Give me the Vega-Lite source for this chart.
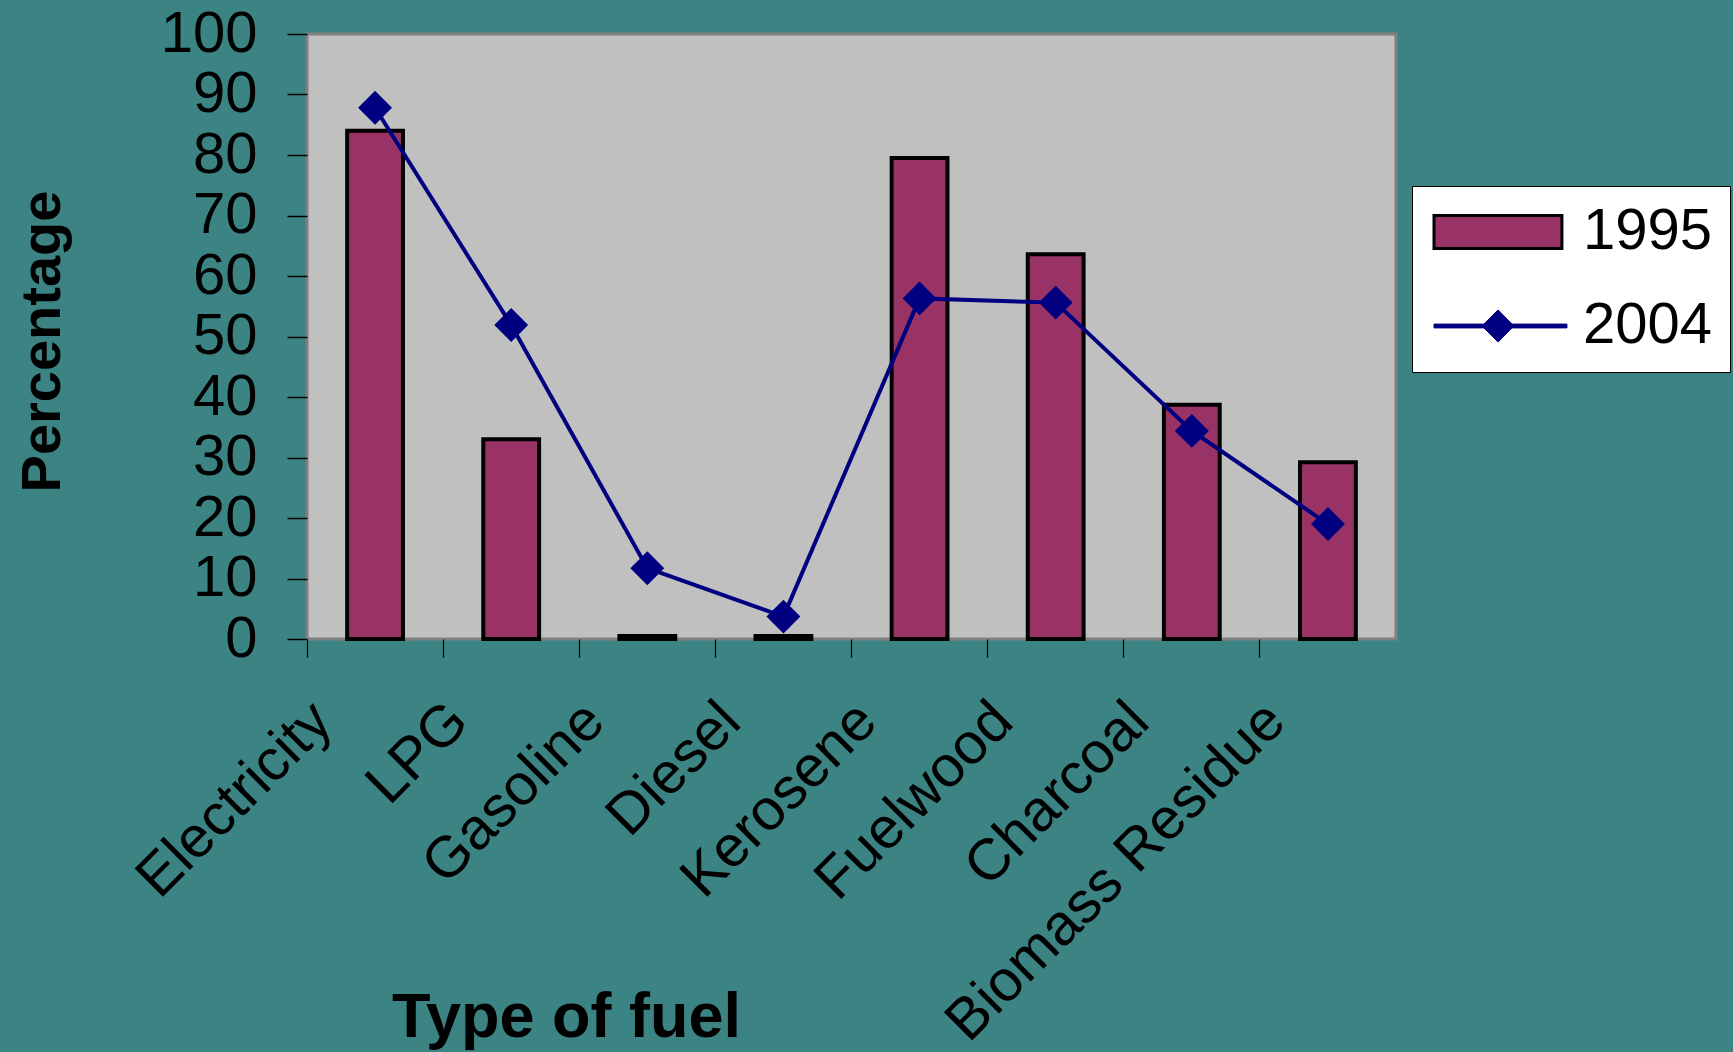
{
  "$schema": "https://vega.github.io/schema/vega-lite/v6.json",
  "width": 1089,
  "height": 605,
  "autosize": {"type": "none"},
  "padding": {"left": 307, "top": 34, "right": 337, "bottom": 413},
  "background": "#3c8383",
  "data": {
    "values": [
      {"fuel": "Electricity", "year": "1995", "pct": 84},
      {"fuel": "LPG", "year": "1995", "pct": 33},
      {"fuel": "Gasoline", "year": "1995", "pct": 0.5},
      {"fuel": "Diesel", "year": "1995", "pct": 0.5},
      {"fuel": "Kerosene", "year": "1995", "pct": 79.5},
      {"fuel": "Fuelwood", "year": "1995", "pct": 63.6},
      {"fuel": "Charcoal", "year": "1995", "pct": 38.7},
      {"fuel": "Biomass Residue", "year": "1995", "pct": 29.2},
      {"fuel": "Electricity", "year": "2004", "pct": 87.8},
      {"fuel": "LPG", "year": "2004", "pct": 51.9},
      {"fuel": "Gasoline", "year": "2004", "pct": 11.7},
      {"fuel": "Diesel", "year": "2004", "pct": 3.7},
      {"fuel": "Kerosene", "year": "2004", "pct": 56.3},
      {"fuel": "Fuelwood", "year": "2004", "pct": 55.6},
      {"fuel": "Charcoal", "year": "2004", "pct": 34.4},
      {"fuel": "Biomass Residue", "year": "2004", "pct": 19}
    ]
  },
  "encoding": {
    "x": {
      "field": "fuel",
      "type": "nominal",
      "sort": ["Electricity", "LPG", "Gasoline", "Diesel", "Kerosene", "Fuelwood", "Charcoal", "Biomass Residue"],
      "scale": {"paddingInner": 0, "paddingOuter": 0},
      "axis": {
        "title": "Type of fuel",
        "bandPosition": 0,
        "domain": false,
        "grid": false,
        "ticks": true,
        "tickSize": 18,
        "tickColor": "black",
        "tickWidth": 1.2,
        "labelAngle": -45,
        "labelAlign": "right",
        "labelBaseline": "middle",
        "labelOffset": -52,
        "labelPadding": 55,
        "labelFontSize": 58,
        "labelColor": "black",
        "labelOverlap": false,
        "labelLimit": 0,
        "titleFontSize": 63,
        "titleFontWeight": "bold",
        "titleColor": "black",
        "titleX": 259,
        "titleY": 397,
        "titleAlign": "center",
        "titleBaseline": "alphabetic"
      }
    }
  },
  "layer": [
    {
      "transform": [{"filter": "datum.year === '1995'"}],
      "mark": {"type": "bar", "width": {"band": 0.41}},
      "encoding": {
        "y": {
          "field": "pct",
          "type": "quantitative",
          "scale": {"domain": [0, 100], "nice": false},
          "axis": {
            "title": "Percentage",
            "values": [0, 10, 20, 30, 40, 50, 60, 70, 80, 90, 100],
            "domain": false,
            "grid": false,
            "tickSize": 20,
            "tickColor": "black",
            "tickWidth": 1.5,
            "labelFontSize": 58,
            "labelColor": "black",
            "labelPadding": 30,
            "titleFontSize": 56,
            "titleFontWeight": "bold",
            "titleColor": "black",
            "titleAngle": 270,
            "titleX": -248,
            "titleY": 307,
            "titleAlign": "center",
            "titleBaseline": "alphabetic"
          }
        },
        "color": {
          "field": "year",
          "type": "nominal",
          "scale": {"domain": ["1995", "2004"], "range": ["#993366", "#000080"]},
          "legend": {
            "title": null,
            "orient": "none",
            "legendX": 1105,
            "legendY": 152,
            "fillColor": "white",
            "strokeColor": "black",
            "padding": 17,
            "symbolSize": 2304,
            "symbolType": {"expr": "datum.value === '1995' ? 'M-1,-0.69H4.33V0.69H-1Z' : 'M-1,-0.08H1.08L1.67,-0.67L2.25,-0.08H4.54V0.08H2.25L1.67,0.67L1.08,0.08H-1Z'"},
            "symbolStrokeColor": {"expr": "datum.value === '1995' ? 'black' : '#000080'"},
            "symbolStrokeWidth": {"expr": "datum.value === '1995' ? 3 : 1"},
            "symbolOpacity": 1,
            "rowPadding": 36,
            "labelFontSize": 58,
            "labelColor": "black",
            "labelOffset": 96,
            "labelLimit": 0
          }
        }
      }
    },
    {
      "transform": [{"filter": "datum.year === '1995'"}],
      "mark": {"type": "bar", "fillOpacity": 0, "stroke": "black", "strokeWidth": 4, "width": {"band": 0.41}},
      "encoding": {
        "y": {"field": "pct", "type": "quantitative"}
      }
    },
    {
      "transform": [{"filter": "datum.year === '2004'"}],
      "mark": {"type": "line", "color": "#000080", "strokeWidth": 4},
      "encoding": {
        "y": {"field": "pct", "type": "quantitative"}
      }
    },
    {
      "transform": [{"filter": "datum.year === '2004'"}],
      "mark": {"type": "point", "shape": "diamond", "filled": true, "size": 1150, "color": "#000080", "opacity": 1},
      "encoding": {
        "y": {"field": "pct", "type": "quantitative"}
      }
    }
  ],
  "config": {
    "font": "Liberation Sans",
    "view": {"fill": "#c0c0c0", "stroke": "#808080", "strokeWidth": 3}
  }
}
